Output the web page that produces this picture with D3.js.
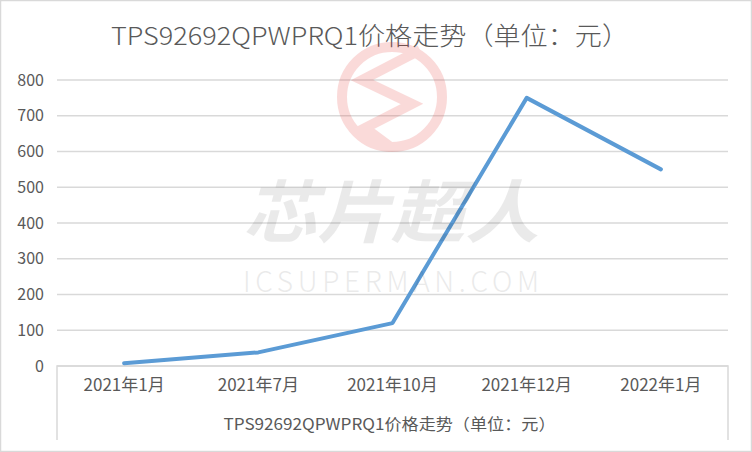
<!DOCTYPE html>
<html>
<head>
<meta charset="utf-8">
<script src="https://cdn.jsdelivr.net/npm/d3@7"></script>
<style>
  html, body { margin: 0; padding: 0; background: #fff; }
  svg { display: block; }
  text { font-family: "Noto Sans CJK SC", "Noto Sans", sans-serif; }
</style>
</head>
<body>
<svg id="chart" width="752" height="452"></svg>
<script>
const titleText = "TPS92692QPWPRQ1价格走势（单位：元）";
const categories = ["2021年1月", "2021年7月", "2021年10月", "2021年12月", "2022年1月"];
const prices = [8, 38, 120, 750, 550];
const yTicks = [0, 100, 200, 300, 400, 500, 600, 700, 800];

const W = 752, H = 452;
const plot = { left: 57, right: 728, top: 80, bottom: 366 };
const tableBottom = 440;

const svg = d3.select("#chart");

// outer border
svg.append("rect").attr("x", 0.5).attr("y", 0.5).attr("width", W - 1).attr("height", H - 1)
  .attr("fill", "#fff").attr("stroke", "#d9d9d9").attr("stroke-width", 1.5);

const x = d3.scaleBand().domain(categories).range([plot.left, plot.right]).padding(0);
const y = d3.scaleLinear().domain([0, 800]).range([plot.bottom, plot.top]);

// title
svg.append("text").attr("x", 370).attr("y", 45).attr("text-anchor", "middle")
  .attr("font-size", 25).attr("font-weight", 300).attr("fill", "#595959")
  .attr("textLength", 518).attr("lengthAdjust", "spacingAndGlyphs")
  .text(titleText);

// gridlines
svg.append("g").selectAll("line").data(yTicks).join("line")
  .attr("x1", plot.left).attr("x2", plot.right)
  .attr("y1", d => y(d)).attr("y2", d => y(d))
  .attr("stroke", "#d9d9d9").attr("stroke-width", 1.5);

// y axis labels
const yAxis = d3.axisLeft(y).tickValues(yTicks).tickSize(0).tickPadding(0);
const gy = svg.append("g").attr("transform", `translate(${plot.left - 13},0)`).call(yAxis);
gy.select(".domain").remove();
gy.selectAll("text").attr("font-size", 16).attr("fill", "#595959")
  .attr("font-family", "\"Noto Sans CJK SC\", sans-serif");

// data table box
svg.append("path")
  .attr("d", `M${plot.left},${tableBottom}V${plot.bottom}H${plot.right}V${tableBottom}`)
  .attr("fill", "none").attr("stroke", "#d9d9d9").attr("stroke-width", 1.5);

// category labels
const xAxis = d3.axisBottom(x).tickSize(0).tickPadding(0);
const gx = svg.append("g").attr("transform", `translate(0,${plot.bottom + 13})`).call(xAxis);
gx.select(".domain").remove();
gx.selectAll("text").attr("font-size", 17).attr("fill", "#595959")
  .attr("font-family", "\"Noto Sans CJK SC\", sans-serif");

// series label in table
svg.append("text").attr("x", (plot.left + plot.right) / 2 - 3).attr("y", 430)
  .attr("text-anchor", "middle").attr("font-size", 16).attr("fill", "#595959")
  .attr("textLength", 332).attr("lengthAdjust", "spacingAndGlyphs")
  .text(titleText);

// line
const line = d3.line().x((d, i) => x(categories[i]) + x.bandwidth() / 2).y(d => y(d));
svg.append("path").datum(prices).attr("d", line)
  .attr("fill", "none").attr("stroke", "#5b9bd5").attr("stroke-width", 4)
  .attr("stroke-linejoin", "round").attr("stroke-linecap", "round");

// watermark
const wm = svg.append("g").attr("pointer-events", "none");
const lg = wm.append("g").attr("opacity", 0.18);
lg.append("circle").attr("cx", 392).attr("cy", 97).attr("r", 50)
  .attr("fill", "none").attr("stroke", "#e53935").attr("stroke-width", 10);
lg.append("path").attr("d", "M420,50 L362,80 L412,104 L365,128 L392,148")
  .attr("fill", "none").attr("stroke", "#e53935").attr("stroke-width", 10)
  .attr("stroke-linejoin", "miter");
wm.append("text").attr("x", 391).attr("y", 237).attr("text-anchor", "middle")
  .attr("font-size", 68).attr("font-weight", "bold").attr("font-style", "italic")
  .attr("fill", "#000").attr("opacity", 0.08)
  .attr("textLength", 296).attr("lengthAdjust", "spacingAndGlyphs")
  .text("芯片超人");
wm.append("text").attr("x", 391).attr("y", 292).attr("text-anchor", "middle")
  .attr("font-size", 28).attr("font-weight", 300)
  .attr("font-family", "\"Liberation Sans\", sans-serif")
  .attr("fill", "#000").attr("opacity", 0.08)
  .attr("textLength", 296).attr("lengthAdjust", "spacing")
  .text("ICSUPERMAN.COM");
</script>
</body>
</html>
